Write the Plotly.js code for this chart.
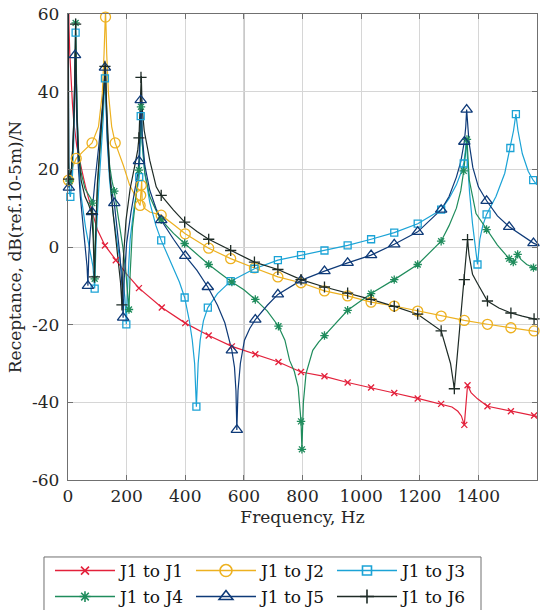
<!DOCTYPE html>
<html><head><meta charset="utf-8">
<script src="https://cdn.plot.ly/plotly-3.0.1.min.js"></script>
<style>
html,body{margin:0;padding:0;background:#fff}
#chart{width:558px;height:610px}
</style>
</head><body>
<div id="chart"></div>
<script>
// ---- data (frequency Hz, receptance dB) ----
const seriesNames = ['J1 to J1','J1 to J2','J1 to J3','J1 to J4','J1 to J5','J1 to J6'];

// J1 to J1
const f1 = [0.3,1.5,3.4,6,10,15,20,30,47,60,81,100,126,163,200,242,320,400,480,559,639,718,795,875,954,1034,1113,1193,1273,1310,1330,1342,1352,1363,1375,1397,1431,1511,1590,1600];
const d1 = [80,64,56.7,50,43,37,32,26,19.8,15.5,9.5,4.5,0.4,-3.4,-7,-10.6,-15.6,-19.6,-22.8,-25.6,-27.6,-29.6,-32.2,-33.3,-34.9,-36.2,-37.6,-39.0,-40.4,-41.2,-42.3,-43.5,-45.8,-35.6,-37.5,-39.1,-41.0,-42.3,-43.4,-43.6];
const mf1 = [126,163,242,320,400,480,559,639,718,795,875,954,1034,1113,1193,1273,1352,1363,1431,1511,1590];
const md1 = [0.4,-3.4,-10.6,-15.6,-19.6,-22.8,-25.6,-27.6,-29.6,-32.2,-33.3,-34.9,-36.2,-37.6,-39.0,-40.4,-45.8,-35.6,-41.0,-42.3,-43.4];

// J1 to J2
const f2 = [0.3,1.5,10,28,50,70,82,104,117,123,126,128,130,132,138,149,161,175,189,210,233,243,246,248,250,251.5,253,260,279,318,360,400,480,555,636,716,795,875,954,1034,1113,1193,1273,1352,1431,1511,1590,1600];
const d2 = [75,17.2,19.5,22.8,24.5,25.8,26.8,31,39.5,49.8,56,61,56,49.8,39.5,31,26.8,24,21,16,12.5,11,10.7,13.3,15.9,17,12,10,9,8.2,5.8,3.4,-0.3,-3.0,-5.4,-7.7,-9.2,-11.3,-12.6,-14.2,-15.2,-16.5,-17.8,-18.9,-19.9,-20.8,-21.6,-21.8];
const mf2 = [1.5,28,82,128,161,246,248,250,318,400,480,555,636,716,795,875,954,1034,1113,1193,1273,1352,1431,1511,1590];
const md2 = [17.2,22.8,26.8,59.2,26.8,10.7,13.3,15.9,8.2,3.4,-0.3,-3.0,-5.4,-7.7,-9.2,-11.3,-12.6,-14.2,-15.2,-16.5,-17.8,-18.9,-19.9,-20.8,-21.6];

// J1 to J3
const f3 = [0.3,2,5,8,15,20,23,26,28,31,36,45,60,75,85,91,96,104,113,120,124,126,127.5,130,134,142,155,170,185,194,199,204,212,225,236,243,246,248,250,253,262,279,300,318,350,380,398,414,424,432,438,444,451,462,477,510,555,636,716,795,875,954,1034,1113,1193,1273,1300,1325,1340,1350,1356,1359,1364,1370,1380,1390,1397,1405,1415,1428,1460,1490,1509,1520,1528,1535,1550,1570,1587,1600];
const d3 = [75,20,14,12.9,18,28,42,55.2,44,32,22,13,5,-1,-5,-10.7,2,14,24,33,40,43.4,45,36,27,17,8,0,-7,-13,-19.9,-9,2,10,15,18,27,33.7,36,27,19,11.5,5.5,1.7,-4,-9,-13,-19,-24,-30,-41.1,-30,-24,-19,-15.6,-12,-8.8,-5.6,-3.4,-2.1,-0.9,0.4,2.0,3.7,6.0,9.6,12.5,16,19,21.5,25,28,21,14,6,0,-4.5,2,5.5,8.4,13,19,25.5,30,34.2,30,24,19.5,17.2,16];
const mf3 = [8,26,91,126,199,243,248,318,398,438,477,555,636,716,795,875,954,1034,1113,1193,1273,1350,1397,1428,1509,1528,1587];
const md3 = [12.9,55.2,-10.7,43.4,-19.9,18.0,33.7,1.7,-13.0,-41.1,-15.6,-8.8,-5.6,-3.4,-2.1,-0.9,0.4,2.0,3.7,6.0,9.6,21.5,-4.5,8.4,25.5,34.2,17.2];

// J1 to J4
const f4 = [0.3,2,5,12,18,22,24.5,26,28,31,36,45,58,70,78,83,87,91,95,102,112,120,124,127,130,134,142,150,158,172,187,198,204,208,212,220,232,242,246,249,250,253,262,279,300,318,360,398,440,480,520,559,600,639,680,718,740,756,772,785,795,798,803,812,835,855,875,954,1034,1113,1193,1273,1300,1325,1340,1350,1361,1369,1392,1428,1465,1505,1512,1519,1526,1534,1545,1565,1588,1600];
const d4 = [75,22,17,20,28,38,48,57.7,45,34,25,19,15,13.5,12.5,11.3,4,-8.2,5,17,28,37,42,46,39,30,21,17,14.4,8,0,-7,-12,-16.1,-7,5,13,19.8,28,36.1,36.5,27,19,13,9.5,7.0,3.5,0.9,-1.8,-4.5,-6.8,-9.0,-11,-13.5,-16.5,-20.4,-24,-29.2,-32,-36,-44.9,-52.1,-40,-32.6,-26.6,-24.5,-22.8,-16.3,-12.0,-8.4,-4.5,1.5,5.5,10,14.5,19.6,27.7,17.2,8.6,4.5,0.5,-3.0,-3.6,-3.9,-3.2,-1.9,-3.2,-4.5,-5.3,-5.7];
const mf4 = [5,26,83,91,158,208,242,249,318,398,480,559,639,718,795,798,875,954,1034,1113,1193,1273,1350,1361,1428,1505,1519,1534,1588];
const md4 = [17,57.7,11.3,-8.2,14.4,-16.1,19.8,36.1,7.0,0.9,-4.5,-9.0,-13.5,-20.4,-44.9,-52.1,-22.8,-16.3,-12.0,-8.4,-4.5,1.5,19.6,27.7,4.5,-3.0,-3.9,-1.9,-5.3];

// J1 to J5
const f5 = [0.3,1.5,3,10,16,20,22.5,24,25,27,30,35,42,52,60,65,68,71,76,82,92,105,115,121,124,126,127.5,130,134,142,150,158,168,177,184,188,192,200,215,230,238,242,246,248,249.5,253,262,279,300,318,360,400,440,477,510,535,548,559,568,573,576,580,588,602,620,639,680,716,795,875,954,1034,1113,1193,1273,1300,1325,1340,1352,1357,1360,1368,1381,1400,1428,1465,1505,1550,1588,1600];
const d5 = [75,25,15.3,18,25,33,42,49.4,50.5,40,30,21,13,5,-1,-5,-10,-2,4,9.0,17,26,33,39,43,46.2,46.8,37,28,19,14,11.3,5,-2,-10,-18.2,-8,1,9,15,19,22.1,30,37.8,38.5,29,21,14.6,10,6.9,2,-2.3,-6,-10.3,-15,-19.5,-23,-26.6,-31,-37,-47.1,-37,-30,-24,-21,-18.7,-15,-12.2,-8.6,-6.2,-4.1,-2.1,0.7,3.9,9.6,13,18,22,27.1,31,35.4,27,20.5,15.5,11.9,8,5.2,2.8,1.0,0.6];
const mf5 = [3,24,68,82,126,158,188,242,248,318,400,477,559,576,639,716,795,875,954,1034,1113,1193,1273,1352,1360,1428,1505,1588];
const md5 = [15.3,49.4,-10,9.0,46.2,11.3,-18.2,22.1,37.8,6.9,-2.3,-10.3,-26.6,-47.1,-18.7,-12.2,-8.6,-6.2,-4.1,-2.1,0.7,3.9,9.6,27.1,35.4,11.9,5.2,1.0];

// J1 to J6
const f6 = [0.3,2,4,12,18,22,24.5,26,28,31,36,45,58,70,81,86,90,94,100,110,118,123,126,128,131,135,142,152,163,172,179,184,189,198,212,228,238,242,246,249,250,253,260,279,301,318,360,398,440,480,555,636,716,795,875,954,1034,1113,1193,1273,1290,1305,1318,1335,1352,1363,1368,1380,1397,1431,1470,1511,1550,1590,1600];
const d6 = [75,17.5,18,20,28,38,48,57.4,45,33,24,17,13,11,8.6,2,-7.7,5,16,27,36,42,46.5,47,38,29,19,10,2,-4,-9,-14.9,-3,7,15,21,25,28.1,36,43.7,44,36,30,22.3,15.5,13.3,9.5,6.4,4,2.0,-0.9,-3.9,-5.8,-8.4,-10.3,-11.9,-13.5,-15.3,-17.3,-21.6,-26,-30,-36.5,-22,-8.4,1.9,-2,-7,-9.4,-13.9,-15.7,-17.0,-17.8,-18.5,-18.7];
const mf6 = [2,26,81,90,126,184,242,249,318,398,480,555,636,716,795,875,954,1034,1113,1193,1273,1318,1352,1363,1431,1511,1590];
const md6 = [17.5,57.4,8.6,-7.7,46.5,-14.9,28.1,43.7,13.3,6.4,2.0,-0.9,-3.9,-5.8,-8.4,-10.3,-11.9,-13.5,-15.3,-17.3,-21.6,-36.5,-8.4,1.9,-13.9,-17.0,-18.5];

const xTickVals = [0,200,400,600,800,1000,1200,1400,1600];
const xTickText = ['0','200','400','600','800','1000','1200','1400','1600'];
const yTickVals = [-60,-40,-20,0,20,40,60];
const yTickText = ['-60','-40','-20','0','20','40','60'];

// ---- styles ----
const lineX = [f1,f2,f3,f4,f5,f6];
const lineY = [d1,d2,d3,d4,d5,d6];
const markX = [mf1,mf2,mf3,mf4,mf5,mf6];
const markY = [md1,md2,md3,md4,md5,md6];
const colors = ['#e3213b','#edb120','#1ba3d6','#1f8c5c','#0e3a78','#1e2b26'];
const symbols = ['x-thin-open','circle-open','square-open','asterisk-open','triangle-up-open','cross-thin-open'];
const sizes = [6,10,7,7,10,8];

const traces = [];
for (let i = 0; i < 6; i++) {
  traces.push({x: lineX[i], y: lineY[i], type: 'scatter', mode: 'lines',
    line: {color: colors[i], width: 1.2}, showlegend: false, hoverinfo: 'skip'});
}
for (let i = 0; i < 6; i++) {
  traces.push({x: markX[i], y: markY[i], type: 'scatter', mode: 'markers', cliponaxis: false,
    marker: {symbol: symbols[i], size: sizes[i], color: colors[i], line: {width: 1.3, color: colors[i]}},
    showlegend: false, hoverinfo: 'skip'});
}
for (let i = 0; i < 6; i++) {
  traces.push({x: [null], y: [null], type: 'scatter', mode: 'lines+markers', name: seriesNames[i],
    legend: i < 3 ? 'legend' : 'legend2',
    line: {color: colors[i], width: 1.4},
    marker: {symbol: symbols[i], size: sizes[i] + 2, color: colors[i], line: {width: 1.6, color: colors[i]}}});
}

const fam = 'DejaVu Serif';
const fs = 17;
const axCommon = {
  showline: true, mirror: 'ticks', linecolor: '#707070', linewidth: 1.3,
  ticks: 'inside', ticklen: 5, tickcolor: '#707070', tickwidth: 1.3,
  showgrid: true, gridcolor: '#d6d6d6', gridwidth: 1, zeroline: false,
  tickfont: {family: fam, size: fs, color: '#262626'}
};
const legCommon = {orientation: 'h', xanchor: 'left', yanchor: 'middle', x: -0.0384,
  entrywidth: 66, entrywidthmode: 'pixels', itemwidth: 60,
  borderwidth: 0, bgcolor: 'rgba(0,0,0,0)',
  font: {family: fam, size: fs, color: '#111'}};

const layout = {
  width: 558, height: 610,
  margin: {l: 68, r: 21, t: 14, b: 130, autoexpand: false},
  paper_bgcolor: '#fff', plot_bgcolor: '#fff',
  font: {family: fam, color: '#262626'},
  xaxis: Object.assign({}, axCommon, {range: [0, 1600], tickvals: xTickVals, ticktext: xTickText,
    title: {text: 'Frequency, Hz', font: {family: fam, size: fs, color: '#262626'}, standoff: 6}}),
  yaxis: Object.assign({}, axCommon, {range: [-60, 60], tickvals: yTickVals, ticktext: yTickText,
    ticklabelstandoff: 4,
    title: {text: 'Receptance, dB(ref.10-5m)/N', font: {family: fam, size: fs, color: '#262626'}, standoff: 6}}),
  shapes: [
    {type: 'line', xref: 'x', yref: 'paper', x0: 600, x1: 600, y0: 0, y1: 1,
      line: {color: '#707070', width: 1}, layer: 'below'},
    {type: 'rect', xref: 'paper', yref: 'paper', x0: -0.0512, x1: 0.8806, y0: -0.1652, y1: -0.32,
      line: {color: '#707070', width: 1}, fillcolor: 'rgba(0,0,0,0)'}
  ],
  legend: Object.assign({}, legCommon, {y: -0.1953}),
  legend2: Object.assign({}, legCommon, {y: -0.2511})
};

Plotly.newPlot('chart', traces, layout, {displayModeBar: false});
</script></body></html>
